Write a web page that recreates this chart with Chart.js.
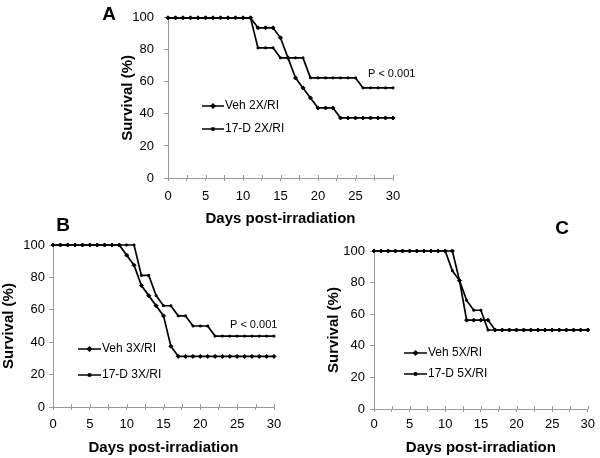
<!DOCTYPE html>
<html lang="en">
<head>
  <meta charset="UTF-8">
  <title>Survival post-irradiation</title>
  <script src="https://cdn.jsdelivr.net/npm/chart.js"></script>
  <style>
    body { margin: 0; background: #fff; }
    #wrap { position: relative; width: 600px; height: 458px; font-family: "Liberation Sans", Arial, sans-serif; }
    canvas { position: absolute; }
    .tag { position: absolute; font-weight: bold; font-size: 19px; transform: translate(-50%, -50%); }
  </style>
</head>
<body>
  <div id="wrap">
    <canvas id="chartA" width="320" height="230" style="left:100px;top:0px"></canvas>
    <canvas id="chartB" width="300" height="228" style="left:0px;top:230px"></canvas>
    <canvas id="chartC" width="300" height="228" style="left:300px;top:230px"></canvas>
    <div class="tag" style="left:109px;top:14px">A</div>
    <div class="tag" style="left:63px;top:225px">B</div>
    <div class="tag" style="left:562px;top:228px">C</div>
  </div>

  <script>
    // hari pengamatan (sumbu x)
    const days = [0, 1, 2, 3, 4, 5, 6, 7, 8, 9, 10, 11, 12, 13, 14, 15, 16, 17, 18, 19, 20, 21, 22, 23, 24, 25, 26, 27, 28, 29, 30];

    // panel A: 2X/RI
    const vehA  = [100, 100, 100, 100, 100, 100, 100, 100, 100, 100, 100, 100, 93.75, 93.75, 93.75, 87.5, 75, 62.5, 56.25, 50, 43.75, 43.75, 43.75, 37.5, 37.5, 37.5, 37.5, 37.5, 37.5, 37.5, 37.5];
    const drugA = [100, 100, 100, 100, 100, 100, 100, 100, 100, 100, 100, 100, 81.25, 81.25, 81.25, 75, 75, 75, 75, 62.5, 62.5, 62.5, 62.5, 62.5, 62.5, 62.5, 56.25, 56.25, 56.25, 56.25, 56.25];

    // panel B: 3X/RI
    const vehB  = [100, 100, 100, 100, 100, 100, 100, 100, 100, 100, 93.75, 87.5, 75, 68.75, 62.5, 56.25, 37.5, 31.25, 31.25, 31.25, 31.25, 31.25, 31.25, 31.25, 31.25, 31.25, 31.25, 31.25, 31.25, 31.25, 31.25];
    const drugB = [100, 100, 100, 100, 100, 100, 100, 100, 100, 100, 100, 100, 81.25, 81.25, 68.75, 62.5, 62.5, 56.25, 56.25, 50, 50, 50, 43.75, 43.75, 43.75, 43.75, 43.75, 43.75, 43.75, 43.75, 43.75];

    // panel C: 5X/RI
    const vehC  = [100, 100, 100, 100, 100, 100, 100, 100, 100, 100, 100, 100, 81.25, 56.25, 56.25, 56.25, 56.25, 50, 50, 50, 50, 50, 50, 50, 50, 50, 50, 50, 50, 50, 50];
    const drugC = [100, 100, 100, 100, 100, 100, 100, 100, 100, 100, 100, 87.5, 81.25, 68.75, 62.5, 62.5, 50, 50, 50, 50, 50, 50, 50, 50, 50, 50, 50, 50, 50, 50, 50];

    const yTicks = [0, 20, 40, 60, 80, 100];
    const xLabelled = [0, 5, 10, 15, 20, 25, 30];

    const FONT = '"Liberation Sans", Arial, sans-serif';
    const AXIS = '#9a9a9a';

    // legenda & teks P digambar manual di dalam area grafik
    const inlay = {
      id: 'inlay',
      afterDraw(chart, args, opts) {
        const ctx = chart.ctx;
        ctx.save();
        // tanda tick sumbu x yang menembus garis sumbu
        const xs = chart.scales.x;
        ctx.strokeStyle = AXIS;
        ctx.lineWidth = 1;
        xs.ticks.forEach(t => {
          const px = Math.round(xs.getPixelForValue(t.value)) + 0.5;
          ctx.beginPath();
          ctx.moveTo(px, xs.top - 3);
          ctx.lineTo(px, xs.top);
          ctx.stroke();
        });
        ctx.font = '12px ' + FONT;
        ctx.fillStyle = '#000';
        ctx.textBaseline = 'middle';
        opts.items.forEach((it, i) => {
          const ds = chart.data.datasets[i];
          ctx.strokeStyle = '#000';
          ctx.lineWidth = 1.5;
          ctx.beginPath();
          ctx.moveTo(opts.x1, it.y);
          ctx.lineTo(opts.x2, it.y);
          ctx.stroke();
          Chart.helpers.drawPoint(ctx, { pointStyle: ds.pointStyle, radius: ds.pointRadius, borderWidth: 1 }, (opts.x1 + opts.x2) / 2, it.y);
          ctx.fillText(ds.label, opts.x2 + 1, it.y);
        });
        if (opts.p) {
          ctx.font = '11px ' + FONT;
          ctx.fillText(opts.p.text, opts.p.x, opts.p.y);
        }
        ctx.restore();
      }
    };

    function series(vals) {
      return days.map((d, i) => ({ x: d, y: vals[i] }));
    }

    function makeChart(id, veh, drug, names, lay) {
      new Chart(document.getElementById(id), {
        type: 'line',
        data: {
          datasets: [
            { label: names[0], data: series(veh), borderColor: '#000', backgroundColor: '#000', borderWidth: 1.7,
              pointStyle: 'rectRot', pointRadius: 2, pointBorderWidth: 1, tension: 0, clip: false },
            { label: names[1], data: series(drug), borderColor: '#000', backgroundColor: '#000', borderWidth: 1.7,
              pointStyle: 'rect', pointRadius: 1.3, pointBorderWidth: 1, tension: 0, clip: false }
          ]
        },
        options: {
          responsive: false,
          animation: false,
          layout: { padding: lay.pad },
          plugins: {
            legend: { display: false },
            tooltip: { enabled: false },
            inlay: lay.inlay
          },
          scales: {
            x: {
              type: 'linear', min: 0, max: 30,
              afterBuildTicks: s => { s.ticks = days.filter(d => d % 5 === 0).flatMap(d => d < 30 ? [{ value: d }, { value: d + 2.5 }] : [{ value: d }]); },
              afterFit: s => { s.height = lay.xh; },
              grid: { drawOnChartArea: false, color: AXIS, tickLength: 3 },
              border: { color: AXIS },
              ticks: { autoSkip: false, maxRotation: 0, padding: lay.xpad, color: '#000', font: { family: FONT, size: 13 },
                callback: v => xLabelled.includes(v) ? v : '' },
              title: { display: true, text: 'Days post-irradiation', padding: 0, color: '#000', font: { family: FONT, size: 15, weight: 'bold' } }
            },
            y: {
              min: 0, max: 100,
              afterBuildTicks: s => { s.ticks = yTicks.map(v => ({ value: v })); },
              afterFit: s => { s.width = lay.yw; },
              grid: { drawOnChartArea: false, color: AXIS, tickLength: 4 },
              border: { color: AXIS },
              ticks: { padding: lay.ypad, color: '#000', font: { family: FONT, size: 13 } },
              title: { display: true, text: 'Survival (%)', padding: 0, color: '#000', font: { family: FONT, size: 15, weight: 'bold' } }
            }
          }
        },
        plugins: [inlay]
      });
    }

    makeChart('chartA', vehA, drugA, ['Veh 2X/RI', '17-D 2X/RI'], {
      pad: { left: 19, top: 14, right: 27, bottom: 2 }, yw: 49, xh: 50, xpad: 8, ypad: 10,
      inlay: { x1: 102, x2: 124, items: [{ y: 106 }, { y: 129 }], p: { text: 'P < 0.001', x: 268, y: 74 } }
    });

    makeChart('chartB', vehB, drugB, ['Veh 3X/RI', '17-D 3X/RI'], {
      pad: { left: 0, top: 15, right: 26, bottom: 1 }, yw: 53, xh: 50, xpad: 7, ypad: 4,
      inlay: { x1: 78, x2: 101, items: [{ y: 119 }, { y: 145 }], p: { text: 'P < 0.001', x: 230, y: 95 } }
    });

    makeChart('chartC', vehC, drugC, ['Veh 5X/RI', '17-D 5X/RI'], {
      pad: { left: 25, top: 21, right: 8, bottom: 1 }, yw: 49, xh: 48, xpad: 5, ypad: 5,
      inlay: { x1: 104, x2: 127, items: [{ y: 123 }, { y: 144 }] }
    });
  </script>
</body>
</html>
